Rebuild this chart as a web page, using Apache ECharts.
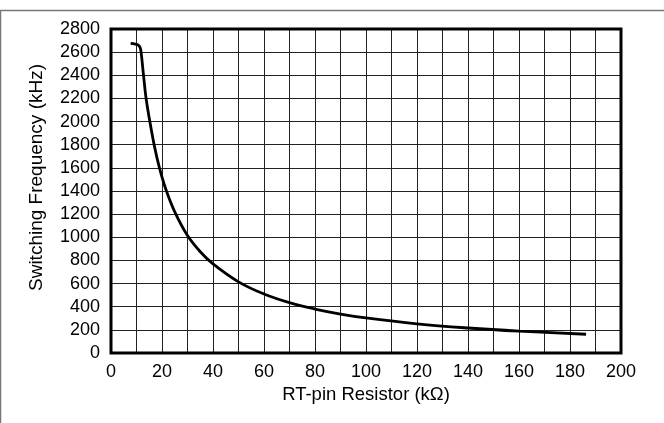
<!DOCTYPE html>
<html>
<head>
<meta charset="utf-8">
<script src="https://cdn.jsdelivr.net/npm/echarts@6/dist/echarts.min.js"></script>
<style>
html,body{margin:0;padding:0;background:#fff;}
#c{width:664px;height:423px;}
</style>
</head>
<body>
<div id="c"></div>
<script>
// Data
const resistorK = [7.7, 9.5, 10.7, 11.4, 11.8, 12.8, 13.7, 15, 17, 19, 21.5, 25, 30, 35, 40, 50, 60, 70, 80, 90, 100, 120, 140, 160, 186.3];
const freqKHz   = [2676, 2670, 2660, 2640, 2600, 2390, 2210, 2030, 1790, 1600, 1415, 1220, 1015, 875, 770, 615, 510, 435, 380, 337, 303, 252, 216, 189, 162];
const xTickLabels = ['0','20','40','60','80','100','120','140','160','180','200'];
const yTickLabels = ['0','200','400','600','800','1000','1200','1400','1600','1800','2000','2200','2400','2600','2800'];
const xTitle = 'RT-pin Resistor (kΩ)';
const yTitle = 'Switching Frequency (kHz)';

const points = resistorK.map((r, i) => [r, freqKHz[i]]);
const font = 'Liberation Sans, Arial, sans-serif';

const chart = echarts.init(document.getElementById('c'), null, {renderer: 'canvas'});
chart.setOption({
  animation: false,
  backgroundColor: '#fff',
  grid: {left: 111, right: 43, top: 29, bottom: 70, show: true, borderColor: '#000', borderWidth: 3, backgroundColor: 'transparent', z: 3},
  xAxis: {
    type: 'value', min: 0, max: 200, interval: 10,
    name: xTitle, nameLocation: 'middle', nameGap: 29,
    nameTextStyle: {fontFamily: font, fontSize: 18.5, color: '#000'},
    axisLine: {show: false},
    axisTick: {show: false},
    axisLabel: {
      fontFamily: font, fontSize: 18, color: '#000', margin: 10,
      formatter: v => xTickLabels.includes(String(v)) ? String(v) : ''
    },
    splitLine: {show: true, lineStyle: {color: '#222', width: 1}}
  },
  yAxis: {
    type: 'value', min: 0, max: 2800, interval: 200,
    name: yTitle, nameLocation: 'middle', nameGap: 65,
    nameTextStyle: {fontFamily: font, fontSize: 19, color: '#000', padding: [0, 0, 0, 27]},
    axisLine: {show: false},
    axisTick: {show: false},
    axisLabel: {
      fontFamily: font, fontSize: 18, color: '#000', margin: 11,
      formatter: v => yTickLabels.includes(String(v)) ? String(v) : ''
    },
    splitLine: {show: true, lineStyle: {color: '#222', width: 1}}
  },
  series: [{
    type: 'line',
    data: points,
    showSymbol: false,
    smooth: 0.4,
    lineStyle: {color: '#000', width: 2.8},
    z: 5
  }],
  graphic: [
    {type: 'line', shape: {x1: 0, y1: 10.5, x2: 664, y2: 10.5}, style: {stroke: '#777', lineWidth: 1.5}, silent: true},
    {type: 'line', shape: {x1: 0.5, y1: 10.5, x2: 0.5, y2: 423}, style: {stroke: '#777', lineWidth: 1.5}, silent: true}
  ]
});
</script>
</body>
</html>
